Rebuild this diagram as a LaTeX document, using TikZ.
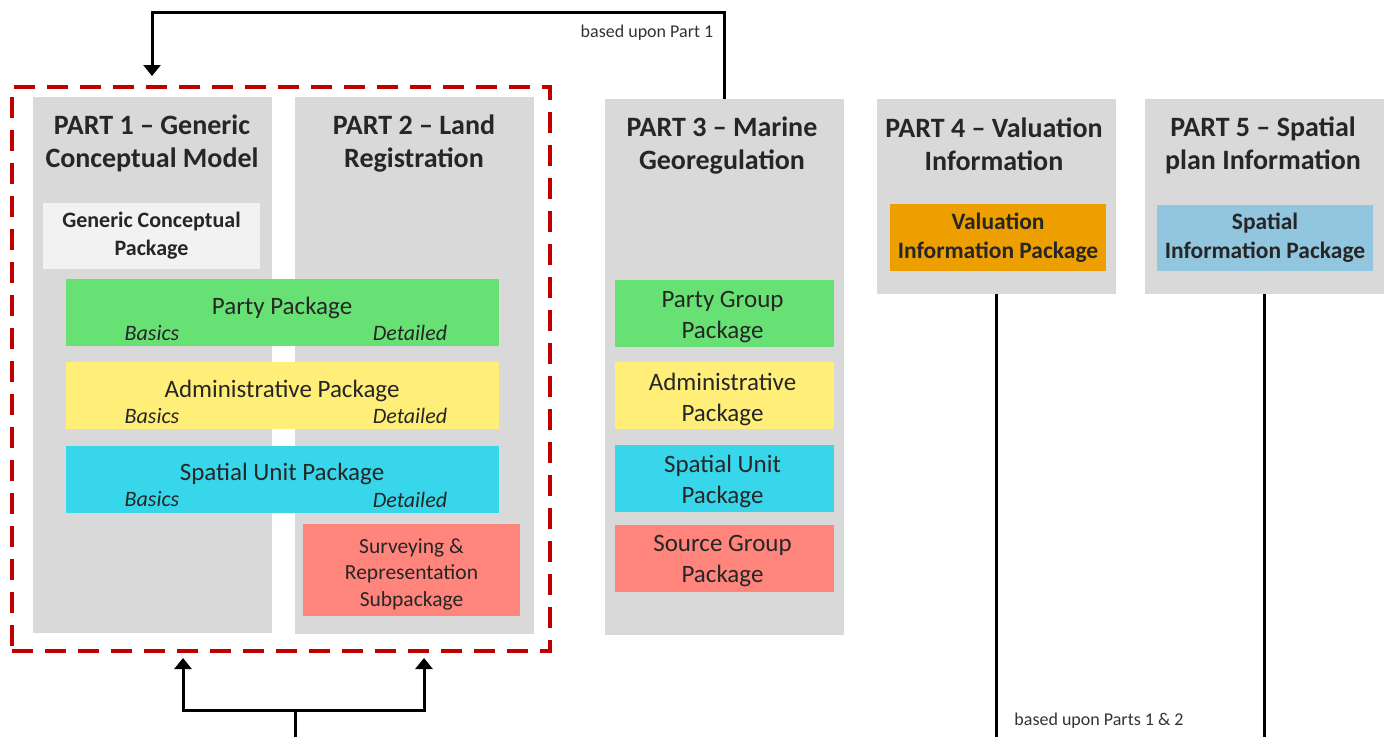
\documentclass[tikz,border=0pt]{standalone}
\usepackage{fontspec}
\setmainfont{Carlito}
\usepackage{xcolor}
\usetikzlibrary{arrows.meta}
\usetikzlibrary{positioning}

\definecolor{partgray}{HTML}{D9D9D9}
\definecolor{genericgray}{HTML}{F2F2F2}
\definecolor{partygreen}{HTML}{67E074}
\definecolor{adminyellow}{HTML}{FFEE77}
\definecolor{spatialcyan}{HTML}{38D6EA}
\definecolor{sourcered}{HTML}{FF847C}
\definecolor{valuationorange}{HTML}{EE9F00}
\definecolor{planblue}{HTML}{92C5DE}
\definecolor{framered}{HTML}{C00000}

\begin{document}
\begin{tikzpicture}[
    x=1pt, y=-1pt, >={Triangle[length=11pt, width=17pt]},
    % Part boxes
    part box/.style={
        rectangle,
        fill=partgray,
        minimum width=239pt,
        inner sep=0pt,
        outer sep=0pt
    },
    part title/.style={
        align=center,
        font=\fontsize{28}{33}\selectfont\bfseries,
        text=black!85
    },
    part frame/.style={
        rectangle,
        draw=framered,
        line width=4pt,
        dash pattern=on 21pt off 12pt,
        inner sep=0pt,
        outer sep=0pt
    },
    % Package boxes
    package box/.style={
        rectangle,
        align=center,
        inner sep=0pt,
        outer sep=0pt,
        font=\fontsize{25}{31}\selectfont,
        text=black!85
    },
    info box/.style={
        package box,
        font=\fontsize{23.5}{29}\selectfont\bfseries
    },
    package text/.style={
        align=center,
        font=\fontsize{25}{31}\selectfont,
        text=black!85
    },
    level label/.style={
        font=\fontsize{22}{26}\selectfont\itshape,
        text=black!85
    },
    % Connectors
    link/.style={draw=black, line width=3pt},
    based label/.style={
        font=\fontsize{18}{21}\selectfont,
        text=black!80
    }
]

\useasboundingbox (0,0) rectangle (1390,737);

% -------------------------------
% Parts
\foreach \n/\x/\y/\h in {1/152.5/365/536, 2/414/365.5/537, 3/724.5/367/536, 4/996/196.5/195, 5/1264.5/196.5/195}
{
    \node[part box, minimum height=\h pt] (part\n) at (\x,\y) {};
}

\foreach \n/\x/\y/\txt in {1/152/143.5/{PART 1 -- Generic\\Conceptual Model},
                           2/414/143.5/{PART 2 -- Land\\Registration},
                           3/722/146/{PART 3 -- Marine\\Georegulation},
                           4/994/144/{PART 4 -- Valuation\\Information},
                           5/1263/145.5/{PART 5 -- Spatial\\plan Information}}
{
    \node[part title] (title\n) at (\x,\y) {\txt};
}

% Parts 1 and 2 together
\node[part frame, minimum width=538pt, minimum height=564pt] (frame) at (281,369) {};

% -------------------------------
% Packages of parts 1 and 2
\node[info box, fill=genericgray, minimum width=217pt, minimum height=66pt,
      font=\fontsize{22}{28}\selectfont\bfseries] (generic) at (151.5,236) {Generic Conceptual\\Package};

\foreach \n/\col/\y/\txt in {party/partygreen/312.5/Party Package,
                             admin/adminyellow/395.5/Administrative Package,
                             spatial/spatialcyan/479/Spatial Unit Package}
{
    \node[package box, fill=\col, minimum width=433pt, minimum height=67pt] (\n) at (282,\y) {};
    \node[package text] (\n-text) at (282,\y-5) {\txt};
    \node[level label] (\n-basics) at (152,\y+20.5) {Basics};
    \node[level label] (\n-detailed) at (410,\y+20.5) {Detailed};
}

\node[package box, fill=sourcered, minimum width=217pt, minimum height=92pt] (surveying) at (411.5,570) {};
\node[package text, font=\fontsize{21.5}{26.5}\selectfont] (surveying-text) at (411.5,574) {Surveying \&\\Representation\\Subpackage};

% Packages of part 3
\foreach \n/\col/\y/\txt in {groupparty/partygreen/313.5/{Party Group\\Package},
                             groupadmin/adminyellow/395.5/{Administrative\\Package},
                             groupspatial/spatialcyan/478/{Spatial Unit\\Package},
                             groupsource/sourcered/558/{Source Group\\Package}}
{
    \node[package box, fill=\col, minimum width=219pt, minimum height=67pt] (\n) at (724.5,\y) {};
    \node[package text] (\n-text) at (722.5,\y+3.5) {\txt};
}

% Packages of parts 4 and 5
\node[info box, fill=valuationorange, minimum width=216pt, minimum height=67pt] (valuation) at (998,237.5) {Valuation\\Information Package};
\node[info box, fill=planblue, minimum width=216pt, minimum height=66pt] (planinfo) at (1265,238) {Spatial\\Information Package};

% -------------------------------
% Connectors
\coordinate (top-turn) at (152,12);
\draw[link, ->, shorten >=11pt] (part3.north) |- (top-turn) -- (top-turn |- frame.north);
\node[based label] (based-top) at (647,33) {based upon Part 1};

\coordinate (base) at (295,737);
\coordinate (fork-l) at (183,710);
\coordinate (fork-r) at (424,710);
\draw[link] (base) -- (base |- fork-l);
\draw[link, <->, shorten <=7pt, shorten >=7pt] (fork-l |- frame.south) -- (fork-l) -- (fork-r) -- (fork-r |- frame.south);

\coordinate (bottom-edge) at (0,737);
\draw[link] (part4.south) -- (part4.south |- bottom-edge);
\draw[link] (part5.south) -- (part5.south |- bottom-edge);
\node[based label] (based-bottom) at (1099,721) {based upon Parts 1 \& 2};

\end{tikzpicture}
\end{document}
